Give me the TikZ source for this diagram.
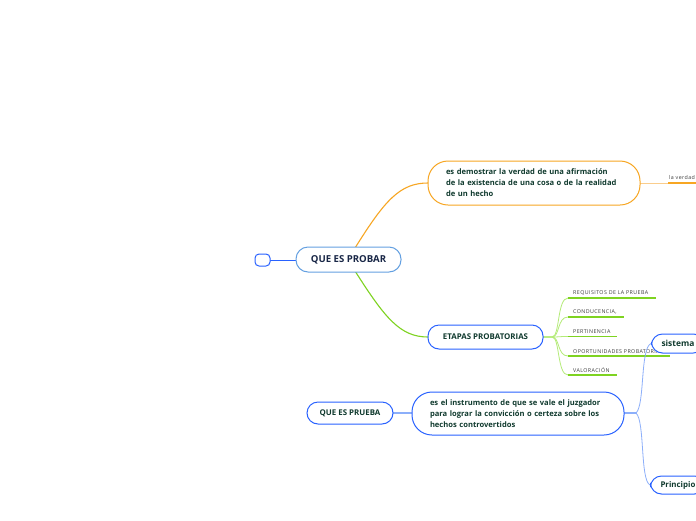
\documentclass[tikz,border=0pt]{standalone}
\usepackage{fontspec}
\setmainfont{Open Sans}
\newfontfamily\itemfont[LetterSpace=8]{Open Sans}
\usepackage{tikz}
\usetikzlibrary{arrows.meta,positioning,calc}
\definecolor{mapBlue}{RGB}{41,98,255}
\definecolor{mapSky}{RGB}{100,160,225}
\definecolor{mapLine}{RGB}{140,175,250}
\definecolor{mapOrange}{RGB}{247,166,35}
\definecolor{mapPeach}{RGB}{250,205,140}
\definecolor{mapGreen}{RGB}{126,211,33}
\definecolor{mapLime}{RGB}{180,235,120}
\definecolor{inkGreen}{RGB}{16,58,46}
\definecolor{inkNavy}{RGB}{24,38,70}
\definecolor{inkGrey}{RGB}{60,60,60}

\begin{document}
\begin{tikzpicture}[x=1pt,y=-1pt,
  topic/.style={draw=#1,line width=1pt,rounded corners=11pt,fill=white,
                font=\fontsize{7.9}{11}\selectfont\bfseries,text=inkGreen,inner xsep=10pt},
  pill/.style={draw=#1,line width=1pt,rounded corners=20pt,fill=white,
               font=\fontsize{7.6}{11}\selectfont\bfseries,text=inkGreen,
               text width=176pt,align=left,inner xsep=18pt,minimum height=43pt},
  leaf/.style={font=\itemfont\fontsize{5.3}{6}\selectfont,text=inkGrey,anchor=south west,
               inner xsep=0pt,inner ysep=2.5pt}]
  \useasboundingbox (0,0) rectangle (696,520);
  \clip (0,0) rectangle (696,520);
  \fill[white] (0,0) rectangle (696,520);

  % connectors first, boxes cover them
  \coordinate (orgA) at (355,248);
  \coordinate (orgB) at (355,271);
  \draw[mapOrange,line width=1.1pt] (orgA) .. controls (385,200) and (400,183) .. (428,183);
  \draw[mapGreen,line width=1.1pt] (orgB) .. controls (385,318) and (400,337) .. (428,337);
  \draw[mapPeach,line width=0.8pt] (640,183) -- (668,183);
  \draw[mapOrange,line width=1.6pt] (668,183) -- (700,183);
  \node[leaf,inner ysep=2pt] (lv) at (669,182) {la verdad};

  % etapas
  \foreach \name/\txt/\yy/\len in {rq/REQUISITOS DE LA PRUEBA/298/88,
                                    cd/{CONDUCENCIA,}/317/56,
                                    pt/PERTINENCIA/336.5/49,
                                    op/OPORTUNIDADES PROBATORIAS/356/102,
                                    vl/VALORACIÓN/375/49} {
    \draw[mapLime,line width=0.8pt] (543,337) -- (552,337)
      .. controls (560,337) and (557,\yy) .. (568,\yy);
    \draw[mapGreen,line width=1.6pt] (568,\yy) -- ++(\len,0);
    \node[leaf] (\name) at (573,\yy) {\txt};
  }

  % prueba branch
  \draw[mapLine,line width=1.2pt] (393,413) -- (412,413);
  \draw[mapLine,line width=1.2pt] (624,413) -- (637,413);
  \draw[mapLine,line width=0.8pt] (636,413) .. controls (645,405) and (640,348) .. (651,343.5);
  \draw[mapLine,line width=0.8pt] (636,413) .. controls (645,421) and (640,480) .. (650,485);
  \draw[mapBlue,line width=1pt] (270,260) -- (296,260);

  \node[topic=mapBlue,minimum width=15pt,minimum height=12pt,inner sep=0pt,
        rounded corners=4pt] (stub) at (262.5,260) {};
  \node[topic=mapSky,minimum width=105pt,minimum height=25pt,rounded corners=12pt,
        font=\fontsize{9.6}{11}\selectfont\bfseries,text=inkNavy] (probar) at (348.5,259.5) {QUE ES PROBAR};
  \node[pill=mapOrange,minimum height=44pt] (demostrar) at (534,183)
    {es demostrar la verdad de una afirmación\\de la existencia de una cosa o de la realidad\\de un hecho};
  \node[topic=mapBlue,minimum width=115pt,minimum height=24pt] (etapas) at (485.5,337) {ETAPAS PROBATORIAS};
  \node[topic=mapBlue,minimum width=86pt,minimum height=22pt] (prueba) at (350,413) {QUE ES PRUEBA};
  \node[pill=mapBlue] (instrumento) at (518,413.5)
    {es el instrumento de que se vale el juzgador\\para lograr la convicción o certeza sobre los\\hechos controvertidos};
  \node[topic=mapBlue,minimum height=19pt,anchor=west,
        font=\fontsize{8.4}{11}\selectfont\bfseries] (sistema) at (651,343.5) {sistema};
  \node[topic=mapBlue,minimum height=18pt,anchor=west] (principio) at (650,485) {Principio};
\end{tikzpicture}
\end{document}
